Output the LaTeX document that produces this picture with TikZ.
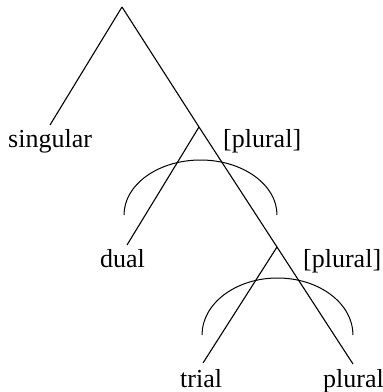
\documentclass[tikz,border=0pt]{standalone}
\usepackage{fontspec}
\setmainfont{Liberation Serif}
\begin{document}
\begin{tikzpicture}[x=1pt,y=-1pt,
  branch/.style={line width=1.1pt},
  scopearc/.style={line width=1.0pt},
  lbl/.style={inner sep=0pt,anchor=base west,font=\fontsize{26}{30}\selectfont}]
\useasboundingbox (0,0) rectangle (383,392);
% tree points
\coordinate (root) at (122,7);
\coordinate (sg) at (50,125);
\coordinate (n2) at (199,127);
\coordinate (du) at (127,245);
\coordinate (n3) at (277,247);
\coordinate (tr) at (203,363);
\coordinate (pl) at (353,364);
% branches
\draw[branch] (root) -- (sg);
\draw[branch] (root) -- (n2) -- (n3) -- (pl);
\draw[branch] (n2) -- (du);
\draw[branch] (n3) -- (tr);
% arcs
\draw[scopearc] (124,215) arc[start angle=180,end angle=360,x radius=76.5,y radius=55];
\draw[scopearc] (202,335) arc[start angle=180,end angle=360,x radius=75.5,y radius=57];
% labels
\node[lbl] (singular) at (8,147) {singular};
\node[lbl] (pluralA) at (223,147) {[plural]};
\node[lbl] (dual) at (100,267) {dual};
\node[lbl] (pluralB) at (303,267) {[plural]};
\node[lbl] (trial) at (180,387) {trial};
\node[lbl] (plural) at (323,387) {plural};
\end{tikzpicture}
\end{document}
